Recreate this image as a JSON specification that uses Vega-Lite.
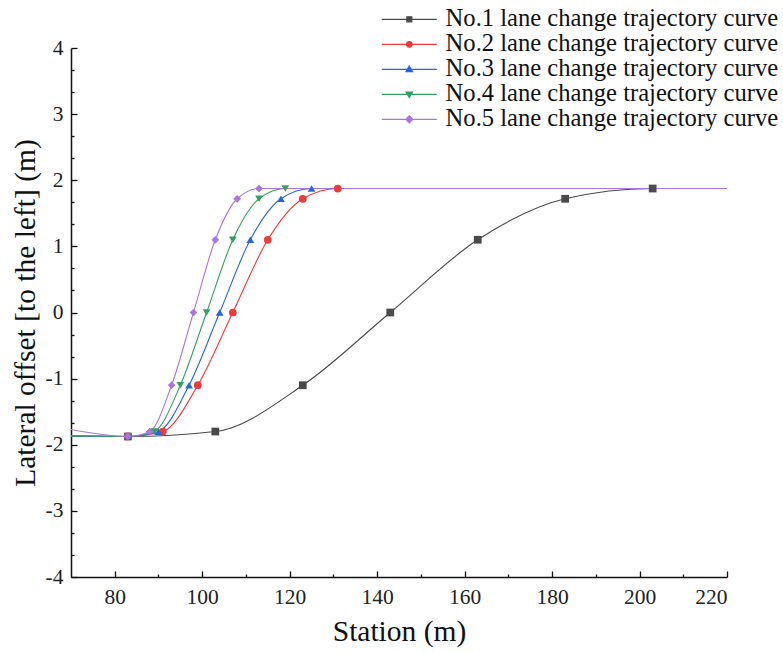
{
  "$schema": "https://vega.github.io/schema/vega-lite/v6.json",
  "width": 656,
  "height": 529,
  "autosize": "none",
  "padding": {"left": 71, "top": 48, "right": 56, "bottom": 75},
  "background": "white",
  "config": {
    "view": {"stroke": null},
    "font": "Times New Roman",
    "axis": {
      "labelFont": "Times New Roman",
      "titleFont": "Times New Roman",
      "labelFontSize": 21.5,
      "titleFontSize": 29.5,
      "titleFontWeight": "normal",
      "labelColor": "#222",
      "titleColor": "#111",
      "grid": false,
      "domainColor": "#111",
      "domainWidth": 1.5,
      "tickColor": "#111",
      "tickWidth": 1.3
    },
    "legend": {
      "labelFont": "Times New Roman"
    }
  },
  "data": {
    "values": [
      {"s": "No.1 lane change trajectory curve", "x": 70, "y": -1.87, "m": 0},
      {"s": "No.1 lane change trajectory curve", "x": 83, "y": -1.875, "m": 1},
      {"s": "No.1 lane change trajectory curve", "x": 103, "y": -1.8, "m": 1},
      {"s": "No.1 lane change trajectory curve", "x": 123, "y": -1.1, "m": 1},
      {"s": "No.1 lane change trajectory curve", "x": 143, "y": 0, "m": 1},
      {"s": "No.1 lane change trajectory curve", "x": 163, "y": 1.1, "m": 1},
      {"s": "No.1 lane change trajectory curve", "x": 183, "y": 1.72, "m": 1},
      {"s": "No.1 lane change trajectory curve", "x": 203, "y": 1.875, "m": 1},
      {"s": "No.1 lane change trajectory curve", "x": 220, "y": 1.875, "m": 0},
      {"s": "No.2 lane change trajectory curve", "x": 70, "y": -1.87, "m": 0},
      {"s": "No.2 lane change trajectory curve", "x": 83, "y": -1.875, "m": 1},
      {"s": "No.2 lane change trajectory curve", "x": 91, "y": -1.8, "m": 1},
      {"s": "No.2 lane change trajectory curve", "x": 99, "y": -1.1, "m": 1},
      {"s": "No.2 lane change trajectory curve", "x": 107, "y": 0, "m": 1},
      {"s": "No.2 lane change trajectory curve", "x": 115, "y": 1.1, "m": 1},
      {"s": "No.2 lane change trajectory curve", "x": 123, "y": 1.72, "m": 1},
      {"s": "No.2 lane change trajectory curve", "x": 131, "y": 1.875, "m": 1},
      {"s": "No.2 lane change trajectory curve", "x": 220, "y": 1.875, "m": 0},
      {"s": "No.3 lane change trajectory curve", "x": 70, "y": -1.87, "m": 0},
      {"s": "No.3 lane change trajectory curve", "x": 83, "y": -1.875, "m": 1},
      {"s": "No.3 lane change trajectory curve", "x": 90, "y": -1.8, "m": 1},
      {"s": "No.3 lane change trajectory curve", "x": 97, "y": -1.1, "m": 1},
      {"s": "No.3 lane change trajectory curve", "x": 104, "y": 0, "m": 1},
      {"s": "No.3 lane change trajectory curve", "x": 111, "y": 1.1, "m": 1},
      {"s": "No.3 lane change trajectory curve", "x": 118, "y": 1.72, "m": 1},
      {"s": "No.3 lane change trajectory curve", "x": 125, "y": 1.875, "m": 1},
      {"s": "No.3 lane change trajectory curve", "x": 220, "y": 1.875, "m": 0},
      {"s": "No.4 lane change trajectory curve", "x": 70, "y": -1.87, "m": 0},
      {"s": "No.4 lane change trajectory curve", "x": 83, "y": -1.875, "m": 1},
      {"s": "No.4 lane change trajectory curve", "x": 89, "y": -1.8, "m": 1},
      {"s": "No.4 lane change trajectory curve", "x": 95, "y": -1.1, "m": 1},
      {"s": "No.4 lane change trajectory curve", "x": 101, "y": 0, "m": 1},
      {"s": "No.4 lane change trajectory curve", "x": 107, "y": 1.1, "m": 1},
      {"s": "No.4 lane change trajectory curve", "x": 113, "y": 1.72, "m": 1},
      {"s": "No.4 lane change trajectory curve", "x": 119, "y": 1.875, "m": 1},
      {"s": "No.4 lane change trajectory curve", "x": 220, "y": 1.875, "m": 0},
      {"s": "No.5 lane change trajectory curve", "x": 70, "y": -1.77, "m": 0},
      {"s": "No.5 lane change trajectory curve", "x": 83, "y": -1.875, "m": 1},
      {"s": "No.5 lane change trajectory curve", "x": 88, "y": -1.8, "m": 1},
      {"s": "No.5 lane change trajectory curve", "x": 93, "y": -1.1, "m": 1},
      {"s": "No.5 lane change trajectory curve", "x": 98, "y": 0, "m": 1},
      {"s": "No.5 lane change trajectory curve", "x": 103, "y": 1.1, "m": 1},
      {"s": "No.5 lane change trajectory curve", "x": 108, "y": 1.72, "m": 1},
      {"s": "No.5 lane change trajectory curve", "x": 113, "y": 1.875, "m": 1},
      {"s": "No.5 lane change trajectory curve", "x": 220, "y": 1.875, "m": 0}
    ]
  },
  "encoding": {
    "x": {
      "field": "x",
      "type": "quantitative",
      "scale": {"domain": [70, 220], "nice": false, "zero": false},
      "axis": {
        "title": "Station (m)",
        "titlePadding": 10,
        "values": [80, 90, 100, 110, 120, 130, 140, 150, 160, 170, 180, 190, 200, 210, 220],
        "labelExpr": "datum.value % 20 == 0 ? datum.label : ''",
        "labelFont": "Times New Roman",
        "labelFontSize": 21.5,
        "labelPadding": 15,
        "tickSize": {"condition": {"test": "datum.value % 20 == 0", "value": -6}, "value": -3}
      }
    },
    "y": {
      "field": "y",
      "type": "quantitative",
      "scale": {"domain": [-4, 4], "nice": false, "zero": false},
      "axis": {
        "title": "Lateral offset [to the left] (m)",
        "titlePadding": 5,
        "values": [-4, -3.6667, -3.3333, -3, -2.6667, -2.3333, -2, -1.6667, -1.3333, -1, -0.6667, -0.3333, 0, 0.3333, 0.6667, 1, 1.3333, 1.6667, 2, 2.3333, 2.6667, 3, 3.3333, 3.6667, 4],
        "labelExpr": "abs(datum.value - round(datum.value)) < 0.01 ? toString(round(datum.value)) : ''",
        "labelFont": "Times New Roman",
        "labelFontSize": 21.5,
        "labelPadding": 14,
        "tickSize": {"condition": {"test": "abs(datum.value - round(datum.value)) < 0.01", "value": -6}, "value": -3}
      }
    }
  },
  "layer": [
    {
      "mark": {"type": "line", "interpolate": "monotone", "strokeWidth": 1.1},
      "encoding": {
        "color": {
          "field": "s",
          "type": "nominal",
          "scale": {"range": ["#4a4a4a", "#ee3a3a", "#2266e0", "#33a061", "#ab74e2"]},
          "legend": {
            "title": null,
            "orient": "none",
            "legendX": 326,
            "legendY": -41,
            "labelFont": "Times New Roman",
            "labelFontSize": 24.6,
            "labelColor": "#111",
            "labelOffset": 24,
            "labelLimit": 500,
            "symbolSize": 100,
            "symbolStrokeWidth": 1.2,
            "rowPadding": 0,
            "encode": {
              "symbols": {
                "update": {
                  "shape": {"signal": "['M-5.5,0H5.5M-0.5,-0.5H0.5V0.5H-0.5Z','M-5.5,0H5.5M-0.55,0A0.55,0.55 0 1,0 0.55,0A0.55,0.55 0 1,0 -0.55,0Z','M-5.5,0H5.5M0,-0.65L0.65,0.45H-0.65Z','M-5.5,0H5.5M0,0.65L0.65,-0.45H-0.65Z','M-5.5,0H5.5M0,-0.7L0.7,0L0,0.7L-0.7,0Z'][datum.index]"},
                  "fill": {"signal": "scale('color', datum.value)"},
                  "stroke": {"signal": "scale('color', datum.value)"},
                  "strokeWidth": {"value": 1.2}
                }
              }
            }
          }
        }
      }
    },
    {
      "transform": [{"filter": "datum.m == 1"}],
      "mark": {"type": "point", "filled": true, "opacity": 1, "size": 60},
      "encoding": {
        "color": {"field": "s", "type": "nominal"},
        "shape": {
          "field": "s",
          "type": "nominal",
          "scale": {"range": ["square", "circle", "triangle-up", "triangle-down", "diamond"]},
          "legend": null
        }
      }
    }
  ]
}
